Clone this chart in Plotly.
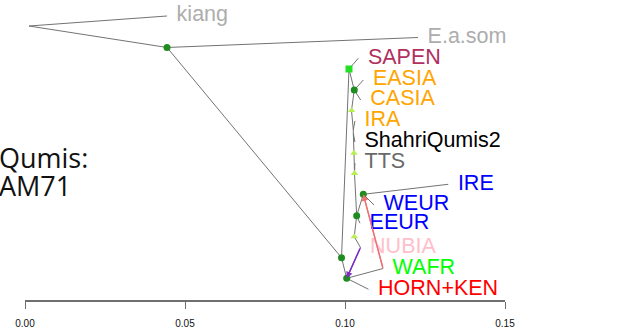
import plotly.graph_objects as go

# Drift tree, Qumis AM71. x = drift parameter, y = vertical layout position (0..1, top = 1)
node_names = ["R", "N1", "N2", "N3", "S", "E", "T1", "A", "B", "T2", "T3", "IREn", "EEn", "T4"]
node_x = [0.00125, 0.04438, 0.09891, 0.10053, 0.10125, 0.10290, 0.10203, 0.10260, 0.10260, 0.10281, 0.10297, 0.10572, 0.10365, 0.10290]
node_y = [0.9133, 0.8417, 0.1410, 0.0723, 0.7700, 0.7000, 0.6317, 0.5667, 0.5560, 0.4900, 0.4223, 0.3523, 0.2810, 0.2110]

tip_names = ["kiang", "E.a.som", "SAPEN", "EASIA", "CASIA", "IRA", "ShahriQumis2", "TTS",
             "IRE", "WEUR", "EEUR", "NUBIA", "WAFR", "HORN+KEN"]
tip_x = [0.04438, 0.12281, 0.10416, 0.10572, 0.10490, 0.10310, 0.10310, 0.10310,
         0.13228, 0.10906, 0.10469, 0.10484, 0.11188, 0.10734]
tip_y = [0.9467, 0.8750, 0.8057, 0.7333, 0.6667, 0.5967, 0.5267, 0.4567,
         0.3857, 0.3167, 0.2557, 0.1750, 0.1050, 0.0357]
tip_colors = ["#adadad", "#adadad", "#B03060", "#FFA500", "#FFA500", "#FFA500", "#000000", "#696969",
              "#0000FF", "#0000FF", "#0000FF", "#FFC0CB", "#00FF00", "#FF0000"]

# Tree edges (parent, child); names refer to nodes or tips
edges = [("R", "kiang"), ("R", "N1"), ("N1", "E.a.som"), ("N1", "N2"),
         ("N2", "S"), ("N2", "N3"), ("S", "SAPEN"), ("S", "E"),
         ("E", "EASIA"), ("E", "CASIA"), ("E", "T1"), ("T1", "A"), ("A", "IRA"),
         ("A", "B"), ("B", "ShahriQumis2"), ("B", "T2"), ("T2", "T3"), ("T3", "TTS"),
         ("T3", "EEn"), ("EEn", "IREn"), ("IREn", "IRE"), ("IREn", "WEUR"),
         ("EEn", "EEUR"), ("EEn", "T4"), ("T4", "NUBIA"),
         ("N3", "WAFR"), ("N3", "HORN+KEN")]

# Migration edges (source, target, colour)
migrations = [("WAFR", "IREn", "#F07070"), ("NUBIA", "N3", "#7D2FC0")]

dot_nodes = ["N1", "N2", "N3", "E", "IREn", "EEn"]
square_nodes = ["S"]
triangle_nodes = ["T1", "T2", "T4", "T3"]

ticks = [0.00, 0.05, 0.10, 0.15]

pos = {n: (x, y) for n, x, y in zip(node_names, node_x, node_y)}
pos.update({n: (x, y) for n, x, y in zip(tip_names, tip_x, tip_y)})

W, H = 623, 336
label_offset = 0.0030

fig = go.Figure()

ex, ey = [], []
for a, b in edges:
    ex += [pos[a][0], pos[b][0], None]
    ey += [pos[a][1], pos[b][1], None]
fig.add_trace(go.Scatter(x=ex, y=ey, mode="lines", line=dict(color="#737373", width=1),
                         hoverinfo="skip", cliponaxis=False))

for src, dst, col in migrations:
    fig.add_trace(go.Scatter(x=[pos[src][0], pos[dst][0]], y=[pos[src][1], pos[dst][1]],
                             mode="lines", line=dict(color=col, width=1.3),
                             hoverinfo="skip", cliponaxis=False))
    fig.add_annotation(x=pos[dst][0], y=pos[dst][1], ax=pos[src][0], ay=pos[src][1],
                       xref="x", yref="y", axref="x", ayref="y", text="",
                       showarrow=True, arrowhead=2, arrowsize=1, arrowwidth=1.3,
                       arrowcolor=col, standoff=0)

fig.add_trace(go.Scatter(x=[pos[n][0] for n in dot_nodes], y=[pos[n][1] for n in dot_nodes],
                         mode="markers", marker=dict(color="#1E8C1E", size=7, symbol="circle"),
                         hoverinfo="skip", cliponaxis=False))
fig.add_trace(go.Scatter(x=[pos[n][0] for n in square_nodes], y=[pos[n][1] for n in square_nodes],
                         mode="markers", marker=dict(color="#22E022", size=7, symbol="square"),
                         hoverinfo="skip", cliponaxis=False))
fig.add_trace(go.Scatter(x=[pos[n][0] for n in triangle_nodes], y=[pos[n][1] for n in triangle_nodes],
                         mode="markers", marker=dict(color="#B8EE50", size=6.5, symbol="triangle-up"),
                         hoverinfo="skip", cliponaxis=False))

fig.add_trace(go.Scatter(x=[x + label_offset for x in tip_x], y=tip_y, mode="text",
                         text=tip_names, textposition="middle right",
                         textfont=dict(family="Liberation Sans, Arial", size=21.5, color=tip_colors),
                         hoverinfo="skip", cliponaxis=False))

# Panel title, two lines at the left edge
for txt, row in [("Qumis:", 157), ("AM71", 185)]:
    fig.add_annotation(x=-3 / W, y=1 - row / H, xref="paper", yref="paper", text=txt,
                       showarrow=False, xanchor="left", yanchor="middle",
                       font=dict(family="Open Sans", size=27, color="#111111"))

fig.update_layout(
    width=W, height=H,
    margin=dict(l=0, r=0, t=0, b=0, autoexpand=False),
    paper_bgcolor="white", plot_bgcolor="white",
    showlegend=False,
    xaxis=dict(domain=[25 / W, 505 / W], range=[0, 0.15], tickvals=ticks,
               ticktext=[f"{t:.2f}" for t in ticks],
               showgrid=False, zeroline=False, showline=True, linecolor="#6f6f6f", linewidth=1.5,
               ticks="outside", ticklen=7, tickwidth=1.2, tickcolor="#6f6f6f",
               ticklabelstandoff=6,
               tickfont=dict(family="Liberation Sans, Arial", size=10, color="#111111"),
               anchor="y", automargin=False),
    yaxis=dict(domain=[36 / H, 1], range=[0, 1], visible=False, fixedrange=True),
)

fig.write_html("out.html")
